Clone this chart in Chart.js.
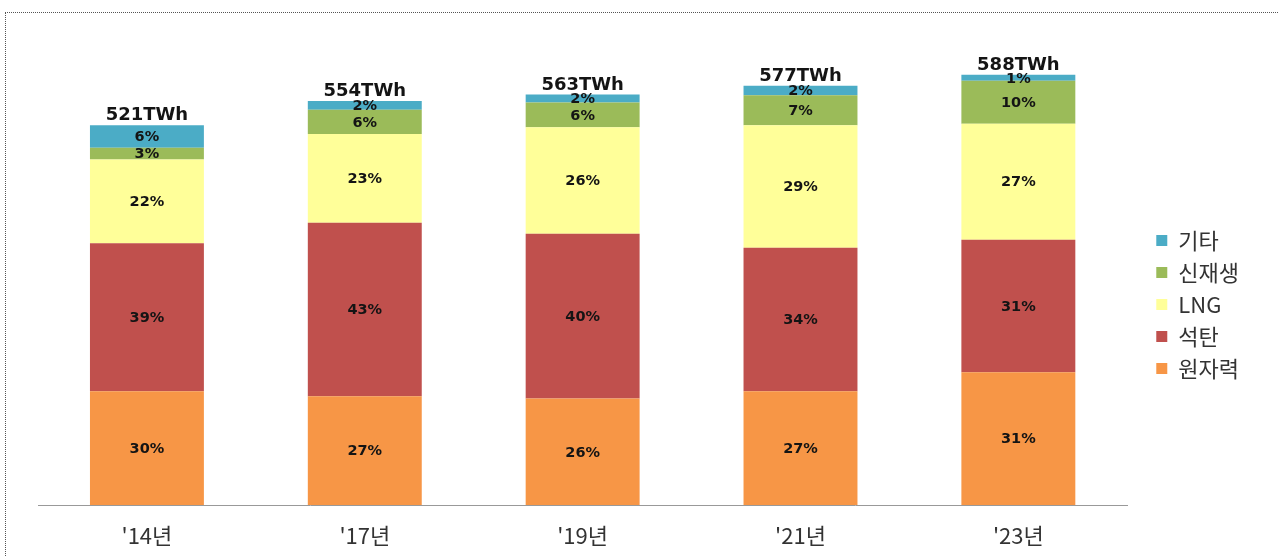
<!DOCTYPE html>
<html>
<head>
<meta charset="utf-8">
<script src="https://cdn.jsdelivr.net/npm/chart.js@4/dist/chart.umd.min.js"></script>
<style>
  html, body { margin: 0; padding: 0; background: #fff; overflow: hidden; }
  #wrap { position: relative; width: 1278px; height: 556px; }
  #frame { position: absolute; left: 5px; top: 12px; right: -10px; bottom: -10px;
           border-top: 1px dotted #555; border-left: 1px dotted #555; pointer-events: none; }
</style>
</head>
<body>
<div id="wrap">
  <canvas id="c" width="1278" height="556"></canvas>
  <div id="frame"></div>
</div>
<script>
// ---- data ----
const categories = ["'14년", "'17년", "'19년", "'21년", "'23년"];
const seriesNames = ["원자력", "석탄", "LNG", "신재생", "기타"];
// generation (TWh) per source
const nuclear   = [156, 149, 146, 156, 182];
const coal      = [203, 238, 226, 197, 182];
const lng       = [115, 122, 146, 168, 159];
const renewable = [16, 33, 34, 41, 59];
const other     = [31, 12, 11, 13, 8];
// share labels printed on the segments (%)
const nuclearPct   = [30, 27, 26, 27, 31];
const coalPct      = [39, 43, 40, 34, 31];
const lngPct       = [22, 23, 26, 29, 27];
const renewablePct = [3, 6, 6, 7, 10];
const otherPct     = [6, 2, 2, 2, 1];
// totals printed above the bars
const totals = [521, 554, 563, 577, 588];

const colors = ['#F79646', '#C0504D', '#FFFF99', '#9BBB59', '#4BACC6'];
const seriesValues = [nuclear, coal, lng, renewable, other];
const seriesPct = [nuclearPct, coalPct, lngPct, renewablePct, otherPct];

const labelPlugin = {
  id: 'segLabels',
  afterDatasetsDraw(chart) {
    const ctx = chart.ctx;
    ctx.save();
    ctx.textAlign = 'center';
    ctx.fillStyle = '#141414';
    ctx.font = "bold 14.5px 'DejaVu Sans', sans-serif";
    ctx.textBaseline = 'middle';
    chart.data.datasets.forEach((ds, i) => {
      const meta = chart.getDatasetMeta(i);
      meta.data.forEach((bar, j) => {
        const yMid = (bar.y + bar.base) / 2;
        ctx.fillText(seriesPct[i][j] + '%', bar.x, yMid + 1);
      });
    });
    const topMeta = chart.getDatasetMeta(chart.data.datasets.length - 1);
    ctx.font = "bold 18px 'DejaVu Sans', sans-serif";
    ctx.textBaseline = 'alphabetic';
    topMeta.data.forEach((bar, j) => {
      ctx.fillText(totals[j] + 'TWh', bar.x, bar.y - 5);
    });
    ctx.restore();
  }
};

new Chart(document.getElementById('c'), {
  type: 'bar',
  data: {
    labels: categories,
    datasets: seriesNames.map((name, i) => ({
      label: name,
      data: seriesValues[i],
      backgroundColor: colors[i],
      borderWidth: 0,
      categoryPercentage: 1.0,
      barPercentage: 0.523
    }))
  },
  options: {
    responsive: false,
    animation: false,
    layout: { padding: { top: 53, bottom: 0, left: 0, right: 29 } },
    plugins: {
      tooltip: { enabled: false },
      legend: {
        position: 'right',
        reverse: true,
        labels: {
          boxWidth: 11,
          boxHeight: 11,
          padding: 10,
          color: '#333',
          font: { family: "'Noto Sans CJK KR', sans-serif", size: 22 }
        }
      }
    },
    scales: {
      x: {
        stacked: true,
        grid: { display: false, drawTicks: false },
        border: { display: true, color: '#999', width: 1 },
        ticks: {
          color: '#333',
          padding: 17,
          font: { family: "'Noto Sans CJK KR', sans-serif", size: 22 }
        },
        afterFit(s) { s.height = 51; }
      },
      y: {
        stacked: true,
        min: 0,
        max: 620,
        display: true,
        grid: { display: false },
        border: { display: false },
        ticks: { display: false },
        afterFit(s) { s.width = 38; }
      },
      yR: {
        position: 'right',
        display: true,
        grid: { display: false },
        border: { display: false },
        ticks: { display: false },
        afterFit(s) { s.width = 19; }
      }
    }
  },
  plugins: [labelPlugin]
});
</script>
</body>
</html>
